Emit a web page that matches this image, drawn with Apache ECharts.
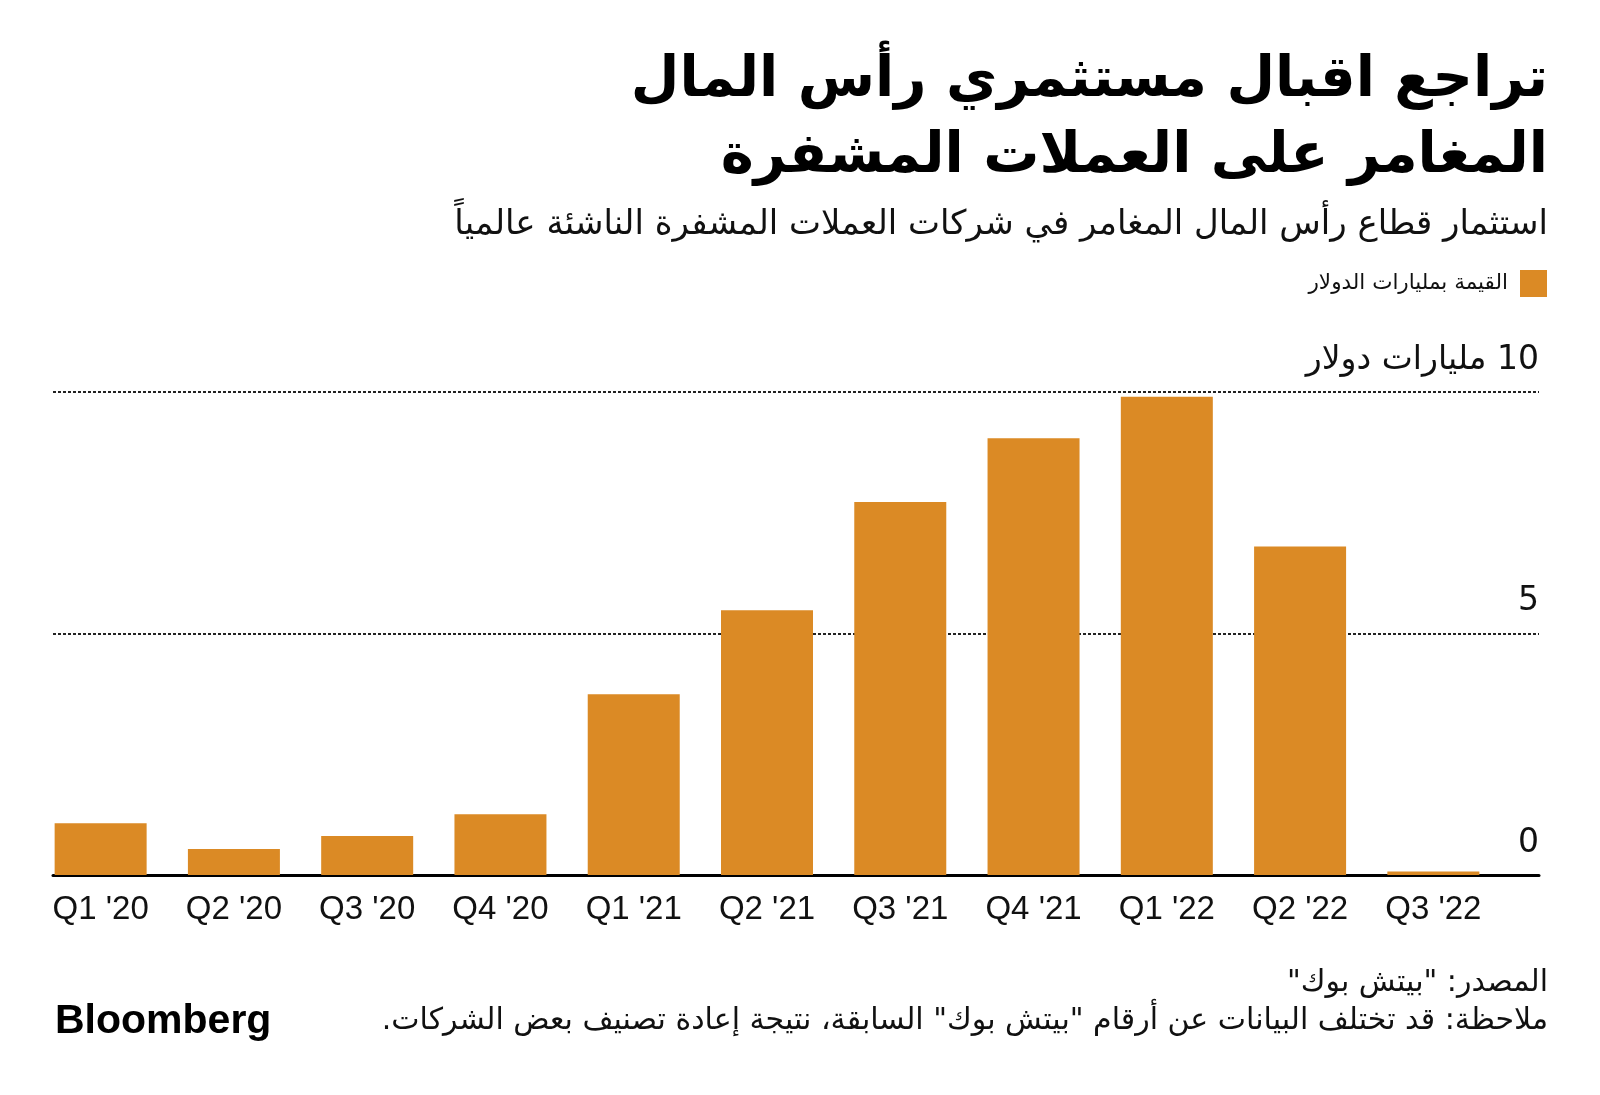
<!DOCTYPE html>
<html>
<head>
<meta charset="utf-8">
<script src="https://cdn.jsdelivr.net/npm/echarts@6/dist/echarts.min.js"></script>
<style>
  html, body { margin: 0; padding: 0; background: #ffffff; }
  #chart { width: 1600px; height: 1095px; }
</style>
</head>
<body>
<div id="chart" dir="rtl"></div>
<script>
// ---- data ----
const categories = ["Q1 '20", "Q2 '20", "Q3 '20", "Q4 '20", "Q1 '21", "Q2 '21", "Q3 '21", "Q4 '21", "Q1 '22", "Q2 '22", "Q3 '22"];
const values = [1.07, 0.54, 0.81, 1.26, 3.74, 5.48, 7.72, 9.04, 9.9, 6.8, 0.07];
const yTickValues = [0, 5, 10];
const yTickLabels = ["0", "5", "10 مليارات دولار"];
const seriesName = "القيمة بمليارات الدولار";
const titleLine1 = "تراجع اقبال مستثمري رأس المال";
const titleLine2 = "المغامر على العملات المشفرة";
const subtitleText = "استثمار قطاع رأس المال المغامر في شركات العملات المشفرة الناشئة عالمياً";
const sourceText = "المصدر: \"بيتش بوك\"";
const noteText = "ملاحظة: قد تختلف البيانات عن أرقام \"بيتش بوك\" السابقة، نتيجة إعادة تصنيف بعض الشركات.";
const brandText = "Bloomberg";

const ARFONT = "'DejaVu Sans', 'Noto Sans', sans-serif";
const LATFONT = "'Liberation Sans', Arial, sans-serif";
const BAR = '#db8a25';

const titleStyle = { fontFamily: ARFONT, fontSize: 56, fontWeight: 'bold', color: '#000', lineHeight: 76 };
const footStyle = { fontFamily: ARFONT, fontSize: 30, fontWeight: 'normal', color: '#111', lineHeight: 38 };

const chart = echarts.init(document.getElementById('chart'), null, { renderer: 'canvas' });
chart.setOption({
  backgroundColor: '#ffffff',
  animation: false,
  title: [
    { text: titleLine1, right: 47, top: 38, textStyle: titleStyle },
    { text: titleLine2, right: 47, top: 114, textStyle: titleStyle },
    { text: subtitleText, right: 47, top: 198,
      textStyle: { fontFamily: ARFONT, fontSize: 34, fontWeight: 'normal', color: '#111', lineHeight: 44 } },
    { text: sourceText, right: 47, top: 959, textStyle: footStyle },
    { text: noteText, right: 47, top: 997, textStyle: footStyle },
    { text: brandText, left: 50, top: 994,
      textStyle: { fontFamily: LATFONT, fontSize: 41, fontWeight: 'bold', color: '#000', lineHeight: 46 } }
  ],
  legend: {
    data: [seriesName],
    right: 48, top: 265,
    align: 'right',
    icon: 'rect',
    itemWidth: 27, itemHeight: 27,
    textStyle: { fontFamily: ARFONT, fontSize: 21.5, color: '#111', padding: [0, 7, 0, 0] }
  },
  grid: [
    { left: 34, right: 100, top: 392, bottom: 220 },
    { left: 53, right: 61, top: 392, bottom: 220 }
  ],
  xAxis: [
    { type: 'category', gridIndex: 0, data: categories,
      axisLine: { show: false }, axisTick: { show: false },
      axisLabel: { fontFamily: LATFONT, fontSize: 33, color: '#111', margin: 18 } },
    { type: 'value', gridIndex: 1, min: 0, max: 1, position: 'bottom',
      axisLine: { show: true, onZero: false, lineStyle: { color: '#000', width: 3 } },
      axisTick: { show: false }, axisLabel: { show: false }, splitLine: { show: false } }
  ],
  yAxis: [
    { type: 'value', gridIndex: 0, min: 0, max: 10, show: false, splitLine: { show: false } },
    { type: 'value', gridIndex: 1, min: 0, max: 10, interval: 5, position: 'right',
      axisLine: { show: false }, axisTick: { show: false },
      splitLine: { show: true, lineStyle: { color: '#222', width: 2, type: [3, 2] } },
      axisLabel: { inside: true, margin: 0, align: 'right', verticalAlign: 'bottom',
        padding: [0, 0, 15, 0], lineHeight: 34,
        fontFamily: ARFONT, fontSize: 33, color: '#111',
        formatter: function (v) { const i = yTickValues.indexOf(v); return i >= 0 ? yTickLabels[i] : ''; } } }
  ],
  series: [
    { name: seriesName, type: 'bar', xAxisIndex: 0, yAxisIndex: 0, data: values,
      barWidth: 92, itemStyle: { color: BAR }, z: 5, silent: true }
  ]
});
</script>
</body>
</html>
